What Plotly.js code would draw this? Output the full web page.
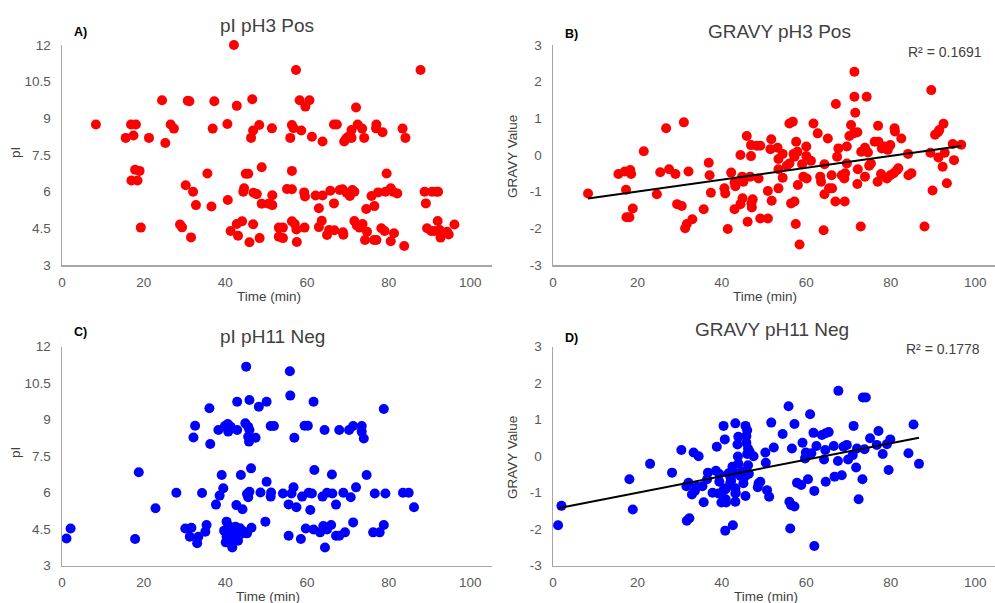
<!DOCTYPE html>
<html>
<head>
<meta charset="utf-8">
<script src="https://cdn.plot.ly/plotly-3.0.1.min.js"></script>
<style>
  html, body { margin: 0; padding: 0; background: #ffffff; }
  #chart { width: 995px; height: 603px; }
</style>
</head>
<body>
<div id="chart"></div>
<script>
// ---- Data: retention time (min) against pI / GRAVY for each fraction ----
const timePH3Pos = [8.3,15.6,16.9,18.1,17.5,17.9,19.0,17.0,18.5,19.3,21.3,24.5,25.3,26.6,27.4,28.9,29.4,30.3,30.8,31.2,32.1,31.6,32.8,35.6,36.6,36.9,37.3,40.6,40.5,41.3,42.1,42.8,42.8,44.1,43.1,44.4,44.6,45.0,45.6,45.9,46.3,46.8,46.6,46.8,46.9,47.7,48.3,48.4,48.9,48.9,50.6,51.4,51.5,51.5,53.1,54.1,53.1,54.1,55.1,56.3,55.9,56.3,56.7,56.3,56.3,57.0,57.3,57.4,57.5,58.2,58.6,59.6,60.6,59.3,59.5,59.4,61.2,62.1,63.8,62.9,62.9,63.6,63.8,64.9,65.4,65.7,66.6,66.7,66.6,67.3,68.0,68.7,68.8,68.9,69.1,69.6,70.1,69.7,70.5,70.9,70.9,71.1,71.6,71.6,72.2,72.0,72.4,73.5,72.9,73.6,74.0,74.2,74.5,74.7,75.8,76.5,76.4,77.0,77.0,76.9,77.4,78.2,79.0,78.5,79.5,79.2,80.5,81.1,82.1,80.5,81.3,83.4,83.8,84.1,87.8,88.8,90.6,91.6,92.1,89.1,89.4,90.4,91.2,92.0,92.5,92.7,94.3,94.7,96.1];
const piPH3Pos = [8.75,8.2,8.75,8.75,8.3,6.9,6.85,6.46,6.46,4.53,8.2,9.74,7.99,8.75,8.58,4.66,4.54,6.26,9.72,9.7,6.0,4.13,5.45,6.74,5.39,8.58,9.7,5.66,8.77,4.39,12.0,9.51,4.68,4.79,4.2,6.0,6.14,6.73,6.73,3.93,8.2,8.5,9.78,4.67,5.96,5.9,8.73,4.1,7.0,5.51,5.51,8.59,5.85,5.45,4.53,4.53,4.16,4.1,6.11,6.1,8.2,8.73,8.6,6.85,4.79,4.68,10.98,4.45,3.94,9.74,8.5,9.48,9.74,5.97,5.8,4.53,8.25,5.84,5.84,5.32,4.55,4.81,8.05,4.23,4.43,6.04,5.52,4.42,8.75,8.75,6.07,6.1,4.34,4.24,8.05,8.17,8.25,5.96,5.82,8.52,8.2,6.07,6.0,4.8,4.62,9.44,8.75,8.58,4.53,4.68,8.2,4.02,5.29,4.36,5.82,5.41,4.02,4.02,8.75,8.59,5.97,4.5,4.39,8.43,6.74,6.0,6.14,6.0,5.93,3.97,4.3,8.58,3.78,8.2,10.98,6.0,6.0,6.0,6.0,5.52,4.5,4.39,4.39,4.8,4.43,4.12,4.36,4.25,4.66];

const timeGravyPH3Pos = [8.3,15.5,17.3,17.0,18.3,18.5,17.4,18.1,18.9,21.5,24.6,25.4,26.8,27.5,29.0,29.4,30.5,31.0,32.1,31.3,31.7,33.0,35.7,36.9,37.1,37.4,40.6,40.8,41.4,42.2,43.0,43.2,43.0,44.4,44.8,45.1,44.4,44.9,45.9,46.1,46.9,46.9,46.7,47.0,47.3,47.1,48.3,49.1,48.7,49.1,50.9,50.9,51.7,51.5,51.8,53.2,54.4,53.4,53.4,53.4,54.4,55.4,56.0,56.0,56.8,56.4,57.2,57.0,57.2,57.6,57.9,57.5,58.0,58.4,59.0,59.3,60.0,60.0,60.1,61.1,61.7,62.7,63.3,63.5,64.1,64.3,64.3,65.1,65.4,66.1,66.0,67.0,66.9,67.3,67.6,68.4,69.0,69.2,69.1,69.6,69.6,70.2,70.6,71.2,72.1,71.4,71.4,71.6,72.2,72.1,72.9,73.0,73.9,74.6,73.9,74.3,74.9,75.3,76.2,77.0,76.9,77.1,77.9,77.7,78.5,79.3,79.9,79.1,79.9,80.7,80.9,81.0,81.5,81.8,82.5,84.1,84.2,84.9,88.0,89.4,89.6,89.9,90.5,91.2,91.5,91.3,92.3,92.5,92.8,93.3,94.7,95.0,96.7];
const gravyPH3Pos = [-1.05,-0.52,-0.95,-0.45,-0.41,-0.52,-1.7,-1.7,-1.46,0.1,-1.07,-0.47,0.73,-0.39,-0.52,-1.34,-1.39,0.89,-0.45,-2.0,-1.88,-1.75,-1.48,-0.21,-0.55,-1.03,-0.91,-1.05,-2.02,-0.48,-0.75,-0.85,-1.48,0.0,-0.59,-0.73,-1.34,-1.18,0.52,-1.82,0.27,-0.03,-0.59,-1.32,-1.21,-1.43,0.25,0.25,-0.64,-1.73,-1.73,-0.98,0.43,0.16,-1.25,0.2,0.03,-0.39,-0.11,-0.91,-0.62,-0.29,-0.23,0.86,0.91,-1.32,-1.27,0.03,-0.05,0.36,0.09,-1.88,-0.82,-2.44,-0.25,-0.59,0.23,-0.03,-0.64,-0.16,0.86,0.59,-0.59,-0.73,-2.05,-0.25,-1.07,0.45,-0.91,-0.91,-0.55,1.39,-1.27,-0.05,0.18,-0.55,-0.64,-0.5,-1.27,0.23,-0.23,0.52,0.82,0.59,0.62,2.27,1.59,1.15,-0.39,-0.79,-1.95,0.09,0.2,0.07,-0.59,1.59,-0.29,-0.23,0.36,0.8,-0.73,0.36,0.18,-0.52,0.23,0.14,0.27,-0.64,-0.55,-0.5,0.73,0.64,-0.41,-0.36,0.45,0.03,-0.55,-0.5,-1.95,0.06,1.77,-0.97,0.55,0.62,0.68,-0.07,-0.32,0.85,0.06,-0.77,0.3,-0.14,0.28];

const timePH11Neg = [1.1,2.1,17.9,18.8,22.9,28.0,30.2,31.7,31.3,32.6,32.2,33.1,33.4,34.3,35.1,35.4,36.1,36.3,37.7,38.3,38.6,39.1,39.5,39.7,40.1,40.3,40.3,39.9,40.6,40.7,41.3,41.7,41.3,42.1,41.9,42.7,42.9,42.9,43.0,43.8,43.1,44.2,43.1,42.5,41.1,43.6,42.3,41.1,44.8,43.8,44.2,45.1,44.9,45.6,45.3,45.6,45.9,45.3,45.6,45.8,45.9,45.9,46.3,46.4,47.4,48.2,48.6,49.8,50.1,50.1,51.1,51.2,51.1,51.9,54.1,55.5,55.5,55.8,55.9,56.2,56.7,56.9,57.4,58.5,58.8,59.4,60.2,59.7,60.8,60.4,61.2,61.6,61.6,61.8,63.2,63.8,64.0,64.9,64.3,64.4,64.9,65.9,66.1,66.2,67.1,67.1,67.9,67.9,68.9,69.3,70.3,71.3,70.7,71.3,72.0,73.4,73.4,73.9,74.6,76.2,77.8,76.6,78.8,78.8,79.2,83.5,84.9,86.2];
const piPH11Neg = [4.12,4.53,4.1,6.84,5.36,6.0,4.53,4.56,4.19,8.75,8.27,3.92,4.19,5.99,4.4,4.67,9.47,8.0,5.51,8.58,5.88,6.73,6.18,4.44,3.96,4.19,4.81,8.74,8.82,8.51,8.71,3.75,4.05,4.16,4.47,5.49,9.74,8.58,4.53,4.3,4.03,4.43,4.3,4.6,4.6,4.54,4.27,4.2,4.36,6.73,5.32,11.18,8.85,8.71,5.95,5.81,6.04,4.33,8.3,8.1,8.58,9.81,7.0,4.56,8.26,9.53,6.01,4.81,9.74,6.45,5.84,6.01,8.74,8.74,5.97,4.23,5.52,10.99,9.99,5.97,6.22,8.26,5.4,4.1,5.84,8.75,8.75,4.53,5.29,6.0,5.97,9.74,4.49,6.93,4.37,5.84,4.63,4.49,8.58,3.75,6.0,4.67,6.75,5.97,5.51,4.23,4.23,8.58,6.0,4.37,8.58,8.74,5.81,4.78,6.22,8.74,8.51,8.23,6.73,4.37,4.37,5.97,9.44,4.67,5.97,6.0,6.0,5.4];

const timeGravyPH11Neg = [1.2,2.0,18.1,18.9,23.0,28.2,30.4,31.6,32.1,31.7,32.3,32.9,33.6,34.0,33.3,34.5,35.4,35.7,36.5,36.7,37.8,38.8,38.6,39.4,39.4,39.9,40.4,40.7,40.4,40.8,40.8,40.9,41.6,42.0,42.2,42.5,42.5,42.0,42.6,43.2,43.2,43.3,43.7,43.8,43.9,43.9,44.4,44.8,45.1,45.4,45.6,45.6,46.0,45.8,45.8,46.2,46.0,46.6,46.2,46.4,43.2,45.9,43.2,41.0,39.2,43.2,41.0,47.5,48.7,49.1,48.5,50.3,50.4,50.7,51.2,51.7,52.3,54.4,55.8,56.0,56.4,56.2,56.6,57.2,57.2,57.8,58.8,59.1,59.7,59.9,60.4,60.9,61.2,61.7,61.9,61.9,62.4,63.7,64.6,65.3,64.2,64.5,64.6,66.5,66.7,68.4,67.5,67.6,68.8,69.6,69.9,71.0,71.2,71.8,72.0,72.4,73.3,73.4,74.1,73.8,75.1,76.7,77.1,78.1,79.1,79.5,79.9,84.2,85.4,86.7];
const gravyPH11Neg = [-1.89,-1.36,-0.63,-1.46,-0.21,-0.45,0.17,-0.82,-0.73,-1.77,-1.7,-1.05,-0.95,-0.84,0.1,0.0,-0.82,-1.26,-0.63,-0.45,-1.0,0.26,-0.4,-0.49,-0.7,-1.27,0.83,0.46,-0.93,-0.91,-2.04,-1.18,-0.47,-0.56,-0.67,-0.29,-0.49,-0.73,-1.89,0.9,-1.25,-1.0,0.32,-0.01,0.53,-0.21,-0.54,-0.42,-0.74,-0.56,-1.09,0.83,0.71,0.55,0.37,0.21,0.06,0.12,-0.25,-0.48,-0.47,-0.5,-0.88,-0.88,-1.02,-1.02,-1.27,0.0,-0.74,-0.7,-0.85,0.1,-0.18,-0.93,-1.11,0.92,0.24,0.61,1.37,-1.25,-1.34,-1.98,0.21,0.88,-1.38,-0.73,-0.79,0.37,-0.06,0.1,-0.63,1.15,0.08,0.64,-2.46,-0.95,0.28,0.58,0.63,0.66,-0.09,0.17,-0.7,0.28,-0.56,-0.52,-0.13,1.79,0.26,0.31,-0.09,0.03,0.83,-0.31,0.21,-1.18,-0.63,1.61,1.61,0.19,0.49,0.31,0.69,0.06,0.33,-0.38,0.46,0.08,0.87,-0.21];

// ---- Labels ----
const panelTitles = ['pI pH3 Pos', 'GRAVY pH3 Pos', 'pI pH11 Neg', 'GRAVY pH11 Neg'];
const panelLetters = ['A)', 'B)', 'C)', 'D)'];
const rSquaredLabels = ['R² = 0.1691', 'R² = 0.1778'];
const timeTicks = [0, 20, 40, 60, 80, 100];
const piTicks = [3, 4.5, 6, 7.5, 9, 10.5, 12];
const gravyTicks = [-3, -2, -1, 0, 1, 2, 3];
const gravyTickText = ['-3', '-2', '-1', '0', '1', '2', '3'];

// Ordinary least-squares line over the range of x
function linearFit(xs, ys) {
  const n = xs.length;
  let sx = 0, sy = 0, sxx = 0, sxy = 0;
  for (let i = 0; i < n; i++) { sx += xs[i]; sy += ys[i]; sxx += xs[i]*xs[i]; sxy += xs[i]*ys[i]; }
  const slope = (n*sxy - sx*sy) / (n*sxx - sx*sx);
  const icpt = (sy - slope*sx) / n;
  const x0 = Math.min(...xs), x1 = Math.max(...xs);
  return { x: [x0, x1], y: [icpt + slope*x0, icpt + slope*x1] };
}

const FONT = 'Liberation Sans, Arial, sans-serif';
const RED = '#ff0000', BLUE = '#0000ff';

function scatter(x, y, color, xa, ya) {
  return { type: 'scatter', mode: 'markers', x: x, y: y, xaxis: xa, yaxis: ya, cliponaxis: false,
           marker: { color: color, size: 10, line: { width: 0 } }, hoverinfo: 'skip', showlegend: false };
}
function trend(x, y, xa, ya) {
  const f = linearFit(x, y);
  return { type: 'scatter', mode: 'lines', x: f.x, y: f.y, xaxis: xa, yaxis: ya,
           line: { color: '#000000', width: 2 }, hoverinfo: 'skip', showlegend: false };
}

const traces = [
  scatter(timePH3Pos, piPH3Pos, RED, 'x', 'y'),
  scatter(timeGravyPH3Pos, gravyPH3Pos, RED, 'x2', 'y2'),
  trend(timeGravyPH3Pos, gravyPH3Pos, 'x2', 'y2'),
  scatter(timePH11Neg, piPH11Neg, BLUE, 'x3', 'y3'),
  scatter(timeGravyPH11Neg, gravyPH11Neg, BLUE, 'x4', 'y4'),
  trend(timeGravyPH11Neg, gravyPH11Neg, 'x4', 'y4')
];

const W = 995, H = 603;
const px = v => v / W;
const py = v => 1 - v / H;

const axisLine = { showline: true, linecolor: '#a6a6a6', linewidth: 1.5, showgrid: false, zeroline: false,
                   ticks: '', tickfont: { family: FONT, size: 13.5, color: '#595959' }, fixedrange: true };

function xAxis(domain, range, anchor) {
  return Object.assign({}, axisLine, { domain: domain, range: range, anchor: anchor,
    tickmode: 'array', tickvals: timeTicks, ticklabelstandoff: 4 });
}
function piAxis(domain, anchor) {
  return Object.assign({}, axisLine, { domain: domain, range: [3, 12], anchor: anchor,
    tickmode: 'array', tickvals: piTicks, ticklabelstandoff: 7 });
}
function gravyAxis(domain, anchor) {
  return Object.assign({}, axisLine, { domain: domain, range: [-3, 3], anchor: anchor,
    tickmode: 'array', tickvals: gravyTicks, ticktext: gravyTickText, ticklabelstandoff: 7 });
}

const leftX = [px(62), px(492)], rightX = [px(553), 1];
const topY = [py(265), py(45)], botY = [py(565.7), py(346.7)];

function note(text, x, y, size, opts) {
  return Object.assign({ text: text, x: px(x), y: py(y), xref: 'paper', yref: 'paper', showarrow: false,
    xanchor: 'center', yanchor: 'middle', font: { family: FONT, size: size, color: '#404040' } }, opts || {});
}
const letterFont = { family: FONT, size: 12.5, color: '#000000' };

const annotations = [
  note(panelTitles[0], 267, 25, 19),
  note(panelTitles[1], 779, 32, 19),
  note(panelTitles[2], 272, 336, 19),
  note(panelTitles[3], 772, 330, 19),
  note('<b>' + panelLetters[0] + '</b>', 80, 32, 12.5, { font: letterFont }),
  note('<b>' + panelLetters[1] + '</b>', 571, 34, 12.5, { font: letterFont }),
  note('<b>' + panelLetters[2] + '</b>', 80, 332, 12.5, { font: letterFont }),
  note('<b>' + panelLetters[3] + '</b>', 571, 338, 12.5, { font: letterFont }),
  note(rSquaredLabels[0], 984, 52, 14, { xanchor: 'right' }),
  note(rSquaredLabels[1], 982, 349, 14, { xanchor: 'right' }),
  note('Time (min)', 269, 296, 13.5),
  note('Time (min)', 765, 296, 13.5),
  note('Time (min)', 268, 596, 13.5),
  note('Time (min)', 766, 596, 13.5),
  note('pI', 15, 153, 13.5, { textangle: -90 }),
  note('pI', 15, 453, 13.5, { textangle: -90 }),
  note('GRAVY Value', 512, 157, 13.5, { textangle: -90 }),
  note('GRAVY Value', 512, 458, 13.5, { textangle: -90 })
];

const layout = {
  width: W, height: H,
  margin: { l: 0, r: 0, t: 0, b: 0, pad: 0 },
  paper_bgcolor: '#ffffff', plot_bgcolor: '#ffffff',
  showlegend: false,
  font: { family: FONT, color: '#595959' },
  xaxis: xAxis(leftX, [0, 105.3], 'y'),
  yaxis: piAxis(topY, 'x'),
  xaxis2: xAxis(rightX, [0, 104.7], 'y2'),
  yaxis2: gravyAxis(topY, 'x2'),
  xaxis3: xAxis(leftX, [0, 105.3], 'y3'),
  yaxis3: piAxis(botY, 'x3'),
  xaxis4: xAxis(rightX, [0, 104.7], 'y4'),
  yaxis4: gravyAxis(botY, 'x4'),
  annotations: annotations
};

Plotly.newPlot('chart', traces, layout, { displayModeBar: false, staticPlot: true });
</script>
</body>
</html>
